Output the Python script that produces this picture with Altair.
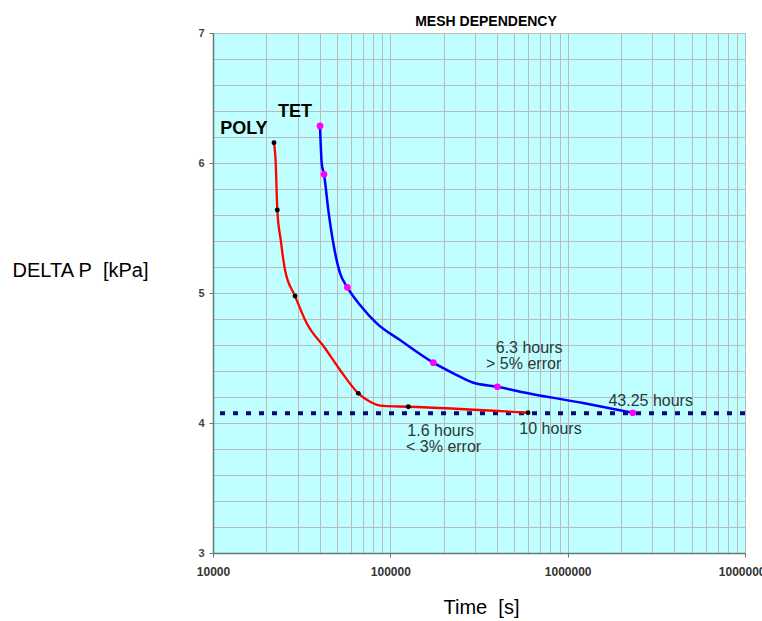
import altair as alt
import pandas as pd

# ---------------- data ----------------
poly_line_t = [22080, 22580, 23050, 24090, 25480, 29010, 33770, 42830, 52040,
               65990, 76850, 91320, 126400, 597800]
poly_line_p = [6.156, 5.998, 5.638, 5.408, 5.177, 4.977, 4.767, 4.575, 4.408,
               4.228, 4.164, 4.131, 4.125, 4.079]
poly_mark_t = [22080, 23050, 29010, 65990, 126400, 597800]
poly_mark_p = [6.156, 5.638, 4.977, 4.228, 4.125, 4.079]

tet_line_t = [40130, 41030, 42280, 44700, 47700, 52040, 57220, 67470, 83820,
              113400, 174800, 226600, 293900, 401300, 538900, 1222000, 2330000]
tet_line_p = [6.285, 5.998, 5.913, 5.638, 5.382, 5.152, 5.044, 4.908, 4.767,
              4.638, 4.464, 4.382, 4.310, 4.279, 4.241, 4.154, 4.079]
tet_mark_t = [40130, 42280, 57220, 174800, 401300, 2330000]
tet_mark_p = [6.285, 5.913, 5.044, 4.464, 4.279, 4.079]

target_p = [4.075]

label_text = ["POLY", "TET"]
label_t = [10990, 23260]
label_p = [6.262, 6.392]

note_text = ["6.3 hours", "> 5% error", "43.25 hours", "1.6 hours", "< 3% error", "10 hours"]
note_t = [393000, 346700, 1697000, 124700, 122600, 534100]
note_p = [4.575, 4.452, 4.173, 3.940, 3.814, 3.952]

x_grid = [m * 10 ** e for e in (4, 5, 6) for m in range(1, 10)] + [10 ** 7]
y_grid = [round(3 + 0.2 * i, 1) for i in range(21)]

# ---------------- frames ----------------
poly_line = pd.DataFrame({"t": poly_line_t, "p": poly_line_p})
poly_mark = pd.DataFrame({"t": poly_mark_t, "p": poly_mark_p})
tet_line = pd.DataFrame({"t": tet_line_t, "p": tet_line_p})
tet_mark = pd.DataFrame({"t": tet_mark_t, "p": tet_mark_p})
target = pd.DataFrame({"p": target_p})
labels = pd.DataFrame({"t": label_t, "p": label_p, "txt": label_text})
notes = pd.DataFrame({"t": note_t, "p": note_p, "txt": note_text})

FONT = "Liberation Sans"
MAJOR_X = "abs(log(datum.value)/log(10) - round(log(datum.value)/log(10))) < 0.001"
MAJOR_Y = "abs(datum.value - round(datum.value)) < 0.001"
GRID = "#BBBBBB"

xscale = alt.Scale(type="log", domain=[10000, 10000000], nice=False)
yscale = alt.Scale(domain=[3, 7], zero=False, nice=False)

xaxis = alt.Axis(
    values=x_grid, title="Time\u00a0 [s]", format="d",
    labelExpr=f"({MAJOR_X}) ? format(datum.value, 'd') : ''",
    labelFlush=False, labelOverlap=False, labelFont=FONT, labelFontSize=12,
    labelFontWeight="bold", labelColor="#333333", labelPadding=9,
    tickSize={"condition": {"test": MAJOR_X, "value": 4}, "value": 0},
    tickColor="#667777", domainColor="#667777", domainWidth=1.5,
    grid=True, gridColor=GRID, gridWidth=1,
    titleFont=FONT, titleFontSize=20, titleFontWeight="normal", titleColor="#000000",
    titleX=268, titleY=54, titleBaseline="middle", titleAlign="center",
)
yaxis = alt.Axis(
    values=y_grid, title="DELTA P\u00a0 [kPa]",
    labelExpr=f"({MAJOR_Y}) ? format(datum.value, 'd') : ''",
    labelOverlap=False, labelFont=FONT, labelFontSize=11, labelFontWeight="bold",
    labelColor="#444444", labelPadding=5,
    tickSize={"condition": {"test": MAJOR_Y, "value": 4}, "value": 0},
    tickColor="#667777", domainColor="#667777", domainWidth=1.5,
    grid=True, gridColor=GRID, gridWidth=1,
    titleFont=FONT, titleFontSize=20, titleFontWeight="normal", titleColor="#000000",
    titleAngle=0, titleX=-201, titleY=237, titleAlign="left", titleBaseline="middle",
)

X = alt.X("t:Q", scale=xscale, axis=xaxis)
Y = alt.Y("p:Q", scale=yscale, axis=yaxis)

poly_l = alt.Chart(poly_line).mark_line(color="#FF0000", strokeWidth=2.3, interpolate="monotone").encode(x=X, y=Y)
tet_l = alt.Chart(tet_line).mark_line(color="#0000FF", strokeWidth=2.5, interpolate="monotone").encode(x=X, y=Y)
dots = alt.Chart(target).mark_rule(color="#0A0A70", strokeWidth=4, strokeDash=[5, 8], strokeCap="butt").encode(y=Y)
poly_m = alt.Chart(poly_mark).mark_point(filled=True, shape="circle", size=24, color="#000000", opacity=1).encode(x=X, y=Y)
tet_m = alt.Chart(tet_mark).mark_point(filled=True, shape="circle", size=45, color="#FF00FF", opacity=1).encode(x=X, y=Y)
lab = alt.Chart(labels).mark_text(font=FONT, fontSize=18, fontWeight="bold", align="left",
                                   baseline="middle", color="#000000").encode(x=X, y=Y, text="txt:N")
nts = alt.Chart(notes).mark_text(font=FONT, fontSize=16, align="left", baseline="middle",
                                  color="#2B3838").encode(x=X, y=Y, text="txt:N")

chart = alt.layer(dots, poly_l, tet_l, poly_m, tet_m, lab, nts).properties(
    width=532, height=520,
    title=alt.TitleParams("MESH DEPENDENCY", font=FONT, fontSize=14, fontWeight="bold",
                          color="#000000", anchor="middle", dx=7, dy=22, offset=9,
                          baseline="alphabetic"),
    autosize=alt.AutoSizeParams(type="none"),
    padding={"left": 213, "top": 33, "right": 17, "bottom": 68},
).configure_view(fill="#BFFFFF", stroke="transparent")

chart.save("out.html", embed_options={"renderer": "svg", "actions": False})
